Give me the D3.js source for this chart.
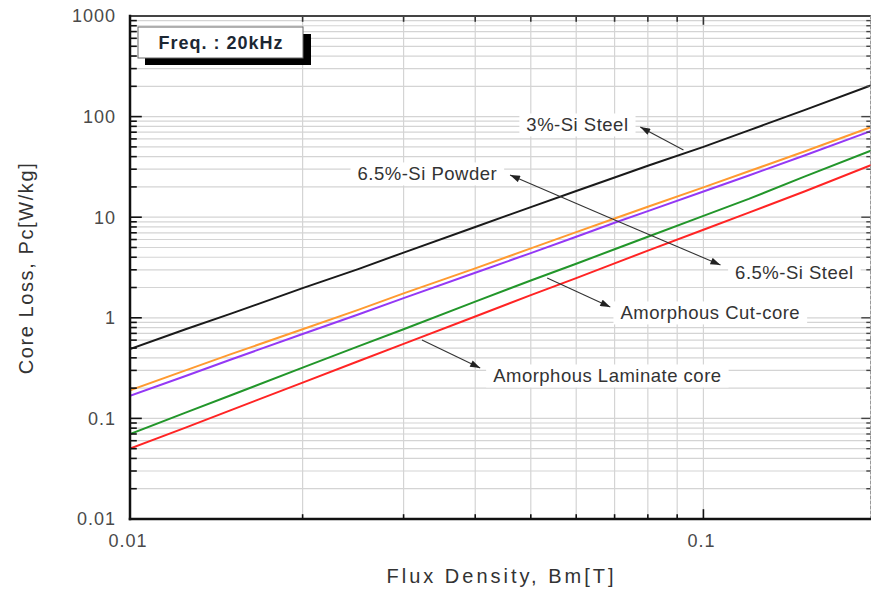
<!DOCTYPE html>
<html>
<head>
<meta charset="utf-8">
<script src="https://cdn.jsdelivr.net/npm/d3@7"></script>
<style>
  html, body { margin: 0; padding: 0; background: #fff; }
  svg { display: block; font-family: "Liberation Sans", Arial, sans-serif; }
</style>
</head>
<body>
<svg id="chart" width="871" height="592"></svg>
<script>
// Flux density sample points [T]
const fluxDensity = [0.01, 0.0125, 0.015, 0.02, 0.025, 0.03, 0.04, 0.05, 0.06, 0.07, 0.08, 0.1, 0.12, 0.15, 0.2];

// Core loss at 20 kHz [W/kg] for each material
const siSteel3 =      [0.49, 0.77, 1.10, 1.97, 3.05, 4.45, 8.0, 12.6, 18.2, 24.8, 32.5, 50, 73, 116, 213];
const siPowder65 =    [0.19, 0.30, 0.435, 0.77, 1.20, 1.75, 3.1, 4.9, 7.1, 9.7, 12.7, 19.8, 28.6, 45, 82];
const siSteel65 =     [0.168, 0.264, 0.385, 0.69, 1.08, 1.57, 2.8, 4.4, 6.4, 8.8, 11.5, 18.0, 26.0, 41, 75];
const amorphousCut =  [0.070, 0.114, 0.170, 0.32, 0.52, 0.77, 1.45, 2.35, 3.45, 4.8, 6.4, 10.3, 15.2, 25.3, 48];
const amorphousLam =  [0.050, 0.081, 0.121, 0.227, 0.37, 0.55, 1.03, 1.68, 2.48, 3.48, 4.65, 7.5, 11.1, 18.0, 34.5];

const seriesNames = ["3%-Si Steel", "6.5%-Si Powder", "6.5%-Si Steel", "Amorphous Cut-core", "Amorphous Laminate core"];
const seriesValues = [siSteel3, siPowder65, siSteel65, amorphousCut, amorphousLam];
const seriesColors = ["#1a1a1a", "#ff9a30", "#9438f5", "#22962a", "#ff2424"];

// Axis ticks and labels
const xTickValues = [0.01, 0.1];
const xTickLabels = ["0.01", "0.1"];
const yTickValues = [0.01, 0.1, 1, 10, 100, 1000];
const yTickLabels = ["0.01", "0.1", "1", "10", "100", "1000"];

const xDomain = [0.01, 0.196];
const yDomain = [0.01, 1000];

// Callouts: label anchor and arrow (tail on curve -> head at label), in data units
const callouts = [
  { text: "3%-Si Steel",             at: [0.0603, 82.5],  from: [0.0923, 46.5], to: [0.0776, 78.8] },
  { text: "6.5%-Si Powder",          at: [0.0330, 26.9],  from: [0.0694, 9.6],  to: [0.0460, 26.3] },
  { text: "6.5%-Si Steel",           at: [0.1441, 2.85],  from: [0.0694, 9.6],  to: [0.1071, 3.35] },
  { text: "Amorphous Cut-core",      at: [0.1028, 1.117], from: [0.0534, 2.49], to: [0.0688, 1.28] },
  { text: "Amorphous Laminate core", at: [0.0680, 0.264], from: [0.0323, 0.601], to: [0.0408, 0.317] }
];

const plot = { left: 130, right: 871, top: 16, bottom: 519 };

const svg = d3.select("#chart");

const x = d3.scaleLog().domain(xDomain).range([plot.left, plot.right]);
const y = d3.scaleLog().domain(yDomain).range([plot.bottom, plot.top]);

// tick positions: 1..9 x 10^k
const xAll = x.ticks(20).filter(v => v >= xDomain[0] && v <= xDomain[1]);
const yAll = y.ticks(40).filter(v => v >= yDomain[0] && v <= yDomain[1]);
const isMajor = v => Math.abs(Math.log10(v) - Math.round(Math.log10(v))) < 1e-9;

// Grid
const grid = svg.append("g").attr("stroke", "#d4d4d4").attr("stroke-width", 1.2);
grid.selectAll("line.hg").data(yAll.filter(v => v > yDomain[0] && v < yDomain[1])).join("line")
  .attr("x1", plot.left).attr("x2", plot.right)
  .attr("y1", d => y(d)).attr("y2", d => y(d));
grid.selectAll("line.vg").data(xAll.filter(v => v > xDomain[0])).join("line")
  .attr("y1", plot.top).attr("y2", plot.bottom)
  .attr("x1", d => x(d)).attr("x2", d => x(d));

// Clip for curves
svg.append("clipPath").attr("id", "plotClip").append("rect")
  .attr("x", plot.left).attr("y", plot.top)
  .attr("width", plot.right - plot.left).attr("height", plot.bottom - plot.top);

const line = d3.line()
  .x((d, i) => x(fluxDensity[i]))
  .y(d => y(d));

svg.append("g").attr("clip-path", "url(#plotClip)")
  .selectAll("path").data(seriesValues).join("path")
  .attr("d", d => line(d))
  .attr("fill", "none")
  .attr("stroke", (d, i) => seriesColors[i])
  .attr("stroke-width", 2)
  .attr("stroke-linejoin", "round");

// Arrow marker
svg.append("defs").append("marker")
  .attr("id", "arrowHead")
  .attr("markerUnits", "userSpaceOnUse")
  .attr("viewBox", "0 0 10 7")
  .attr("refX", 10).attr("refY", 3.5)
  .attr("markerWidth", 11).attr("markerHeight", 7)
  .attr("orient", "auto")
  .append("path").attr("d", "M0,0 L10,3.5 L0,7 Z").attr("fill", "#222");

// Callout labels with white backing
const cg = svg.append("g");
callouts.forEach(c => {
  const g = cg.append("g");
  const rect = g.append("rect").attr("fill", "#fff");
  const t = g.append("text")
    .attr("x", x(c.at[0])).attr("y", y(c.at[1]))
    .attr("text-anchor", "middle")
    .attr("dy", "0.35em")
    .attr("font-size", 18.5)
    .attr("letter-spacing", 0.5)
    .attr("fill", "#333")
    .text(c.text);
  const bb = t.node().getBBox();
  rect.attr("x", bb.x - 7).attr("y", bb.y - 1)
    .attr("width", bb.width + 14).attr("height", bb.height + 2);
});

// Callout arrows
cg.selectAll("line.arrow").data(callouts).join("line")
  .attr("x1", d => x(d.from[0])).attr("y1", d => y(d.from[1]))
  .attr("x2", d => x(d.to[0])).attr("y2", d => y(d.to[1]))
  .attr("stroke", "#333").attr("stroke-width", 1.1)
  .attr("marker-end", "url(#arrowHead)");

// Frequency tag with drop shadow
const tag = svg.append("g").attr("transform", `translate(${plot.left + 8},${plot.top + 11})`);
tag.append("rect").attr("x", 7).attr("y", 7).attr("width", 166).attr("height", 31).attr("fill", "#000");
tag.append("rect").attr("x", 0).attr("y", 0).attr("width", 165).attr("height", 31)
  .attr("fill", "#fff").attr("stroke", "#666").attr("stroke-width", 1);
tag.append("text").attr("x", 83).attr("y", 16).attr("dy", "0.36em")
  .attr("text-anchor", "middle")
  .attr("font-size", 18).attr("font-weight", "bold").attr("letter-spacing", 1)
  .attr("fill", "#1c2733")
  .text("Freq. : 20kHz");

// Axes frame and ticks
const axes = svg.append("g").attr("stroke-linecap", "square");

// left axis ticks (inward)
axes.selectAll("line.ly").data(yAll).join("line")
  .attr("x1", plot.left).attr("x2", d => plot.left + (isMajor(d) ? 11 : 6))
  .attr("y1", d => y(d)).attr("y2", d => y(d))
  .attr("stroke", "#111").attr("stroke-width", 1.6);
// right axis ticks
axes.selectAll("line.ry").data(yAll).join("line")
  .attr("x1", plot.right).attr("x2", d => plot.right - (isMajor(d) ? 9 : 4))
  .attr("y1", d => y(d)).attr("y2", d => y(d))
  .attr("stroke", "#444").attr("stroke-width", 1.4);
// bottom axis ticks
axes.selectAll("line.bx").data(xAll).join("line")
  .attr("y1", plot.bottom).attr("y2", d => plot.bottom - (isMajor(d) ? 9 : 4))
  .attr("x1", d => x(d)).attr("x2", d => x(d))
  .attr("stroke", "#111").attr("stroke-width", 1.6);
// top axis ticks
axes.selectAll("line.tx").data(xAll).join("line")
  .attr("y1", plot.top).attr("y2", d => plot.top + (isMajor(d) ? 8 : 5))
  .attr("x1", d => x(d)).attr("x2", d => x(d))
  .attr("stroke", "#333").attr("stroke-width", 1.6);

axes.append("line").attr("x1", plot.left).attr("x2", plot.right)
  .attr("y1", plot.top).attr("y2", plot.top).attr("stroke", "#444").attr("stroke-width", 2);
axes.append("line").attr("x1", plot.right - 0.5).attr("x2", plot.right - 0.5)
  .attr("y1", plot.top).attr("y2", plot.bottom).attr("stroke", "#999").attr("stroke-width", 1)
  .attr("stroke-dasharray", "3,2");
axes.append("line").attr("x1", plot.left).attr("x2", plot.right)
  .attr("y1", plot.bottom).attr("y2", plot.bottom).attr("stroke", "#111").attr("stroke-width", 2.5);
axes.append("line").attr("x1", plot.left).attr("x2", plot.left)
  .attr("y1", plot.top).attr("y2", plot.bottom).attr("stroke", "#111").attr("stroke-width", 2.5);

// Tick labels
svg.append("g").selectAll("text").data(yTickValues).join("text")
  .attr("x", plot.left - 14).attr("y", d => y(d)).attr("dy", "0.36em")
  .attr("text-anchor", "end")
  .attr("font-size", 18).attr("letter-spacing", 1)
  .attr("fill", "#4a4a4a")
  .text((d, i) => yTickLabels[i]);

svg.append("g").selectAll("text").data(xTickValues).join("text")
  .attr("x", d => x(d) - 2).attr("y", plot.bottom + 28)
  .attr("text-anchor", "middle")
  .attr("font-size", 18).attr("letter-spacing", 1)
  .attr("fill", "#4a4a4a")
  .text((d, i) => xTickLabels[i]);

// Axis titles
svg.append("text")
  .attr("x", (plot.left + plot.right) / 2 + 1).attr("y", 583)
  .attr("text-anchor", "middle")
  .attr("font-size", 20).attr("letter-spacing", 3)
  .attr("fill", "#333")
  .text("Flux Density, Bm[T]");

svg.append("text")
  .attr("transform", "translate(33,268) rotate(-90)")
  .attr("text-anchor", "middle")
  .attr("font-size", 20).attr("letter-spacing", 1.6)
  .attr("fill", "#333")
  .text("Core Loss, Pc[W/kg]");
</script>
</body>
</html>
